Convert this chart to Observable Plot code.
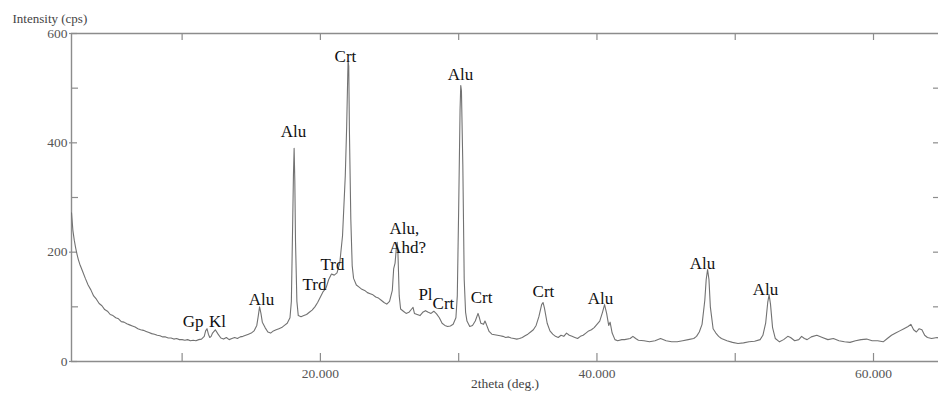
<!DOCTYPE html>
<html>
<head>
<meta charset="utf-8">
<script src="https://cdn.jsdelivr.net/npm/d3@7"></script>
<script src="https://cdn.jsdelivr.net/npm/@observablehq/plot@0.6"></script>
<style>
  html, body { margin: 0; padding: 0; background: #fff; }
  svg { display: block; }
</style>
</head>
<body>
<div id="chart"></div>
<script>
// ---- data ----
const twoTheta = [
  2.0,2.1,2.2,2.3,2.4,2.5,2.6,2.8,3.0,3.2,3.4,3.6,3.8,4.0,4.2,4.4,4.6,4.8,5.0,5.2,5.4,5.6,5.8,6.0,6.2,6.4,6.6,6.8,7.0,7.2,7.4,7.6,7.8,8.0,8.2,8.4,8.6,8.8,9.0,9.2,9.4,9.6,9.8,10.0,10.2,10.4,10.6,10.8,11.0,11.2,11.4,11.6,11.7,11.8,11.9,12.0,12.1,12.2,12.4,12.6,12.8,13.0,13.2,13.4,13.6,13.8,14.0,14.2,14.4,14.6,14.8,15.0,15.2,15.4,15.5,15.6,15.7,15.8,16.0,16.2,16.4,16.6,16.8,17.0,17.2,17.4,17.6,17.8,17.9,18.0,18.05,18.1,18.15,18.2,18.3,18.4,18.6,18.8,19.0,19.2,19.4,19.6,19.8,20.0,20.2,20.4,20.6,20.8,21.0,21.2,21.4,21.6,21.8,21.9,22.0,22.05,22.1,22.2,22.3,22.4,22.6,22.8,23.0,23.2,23.4,23.6,23.8,24.0,24.2,24.4,24.6,24.8,25.0,25.2,25.3,25.4,25.5,25.55,25.6,25.7,25.8,26.0,26.2,26.4,26.6,26.7,26.8,27.0,27.2,27.4,27.6,27.8,28.0,28.2,28.4,28.6,28.8,29.0,29.2,29.4,29.6,29.8,29.9,30.0,30.1,30.15,30.2,30.3,30.4,30.5,30.6,30.8,31.0,31.2,31.4,31.5,31.6,31.8,31.9,32.0,32.2,32.4,32.6,32.8,33.0,33.2,33.4,33.6,33.8,34.0,34.2,34.4,34.6,34.8,35.0,35.2,35.4,35.6,35.8,36.0,36.1,36.2,36.4,36.6,36.8,37.0,37.2,37.4,37.6,37.8,38.0,38.2,38.4,38.6,38.8,39.0,39.2,39.4,39.6,39.8,40.0,40.2,40.4,40.55,40.7,40.85,40.95,41.1,41.3,41.5,41.8,42.0,42.4,42.6,42.8,43.0,43.4,43.8,44.2,44.6,45.0,45.4,45.8,46.2,46.6,47.0,47.2,47.4,47.6,47.8,47.9,48.0,48.1,48.2,48.4,48.6,48.8,49.0,49.4,49.8,50.2,50.6,51.0,51.4,51.8,52.0,52.2,52.35,52.45,52.55,52.7,52.9,53.2,53.5,53.8,54.0,54.3,54.6,54.8,55.0,55.2,55.5,55.9,56.3,56.7,57.1,57.5,57.9,58.3,58.7,59.1,59.5,59.9,60.3,60.7,61.0,61.3,61.6,61.9,62.2,62.5,62.7,62.9,63.1,63.3,63.5,63.7,63.9,64.2,64.6,64.7
];
const intensity = [
  272,240,222,208,196,186,178,165,152,140,131,120,114,106,102,95,92,86,84,80,78,73,72,69,67,65,63,60,58,57,55,53,51,50,48,47,45,45,43,43,41,42,40,40,39,40,38,39,38,40,41,46,56,60,50,44,46,52,58,50,43,41,44,40,42,44,42,45,46,48,50,52,56,66,82,100,88,72,62,54,52,56,58,60,62,66,70,80,110,260,340,390,330,220,110,84,82,84,86,90,94,100,108,118,128,134,150,160,158,162,180,230,340,430,550,540,420,260,175,152,140,136,132,130,126,124,122,118,116,112,108,105,110,130,170,180,210,218,205,120,96,92,88,90,96,99,88,86,84,90,93,90,88,92,87,80,70,66,64,65,68,80,120,280,460,505,495,360,150,90,74,64,66,74,88,80,70,68,74,68,55,50,49,48,47,46,44,45,43,42,41,42,44,47,50,54,58,66,82,104,108,98,70,56,50,46,44,48,46,52,48,46,44,42,46,48,52,56,58,62,68,74,90,104,88,66,72,52,40,38,40,40,42,46,42,39,38,36,38,42,38,36,36,38,40,42,46,54,68,112,150,168,150,100,60,52,46,42,38,35,33,34,36,37,40,48,70,108,122,105,62,42,36,40,46,44,38,40,46,42,40,45,48,44,40,42,38,36,35,38,40,41,38,38,36,42,48,52,56,60,64,68,58,54,60,58,48,44,42,44,43
];
const yMajorTicks = [0, 200, 400, 600];
const yMinorTicks = [100, 300, 500];
const xTicks = [10, 20, 30, 40, 50, 60];
const xLabelTicks = [20, 40, 60];

// peak annotations (phase, 2theta, intensity)
const peakLabels = ["Gp","Kl","Alu","Alu","Trd","Trd","Crt","Alu,","Ahd?","Pl","Crt","Alu","Crt","Crt","Alu","Alu","Alu"];
const peakTheta  = [10.80,12.56,15.74,18.05,19.57,20.87,21.81,26.08,26.30,27.60,28.90,30.13,31.65,36.13,40.25,47.63,52.18];
const peakCps    = [73,73,113,421,141,177,558,243,208,123,106,525,117,128,115,179,132];

const xTitle = "2theta (deg.)";
const yTitle = "Intensity (cps)";

// ---- chart ----
const spectrum = twoTheta.map((t, i) => ({t, v: intensity[i]}));
const labels = peakLabels.map((s, i) => ({s, t: peakTheta[i], v: peakCps[i]}));

const W = 938, H = 398, mL = 71, mR = 0, mT = 33, mB = 37;
const innerW = W - mL - mR, innerH = H - mT - mB;
const axisColor = "#8c8c8c";

const chart = Plot.plot({
  width: W, height: H,
  marginLeft: mL, marginRight: mR, marginTop: mT, marginBottom: mB,
  style: {fontFamily: "'Liberation Serif', 'DejaVu Serif', serif", fontSize: "13.5px", background: "#fff"},
  x: {domain: [2, 64.7]},
  y: {domain: [0, 600]},
  marks: [
    // frame
    Plot.ruleY([0, 600], {stroke: axisColor, strokeWidth: 1.4}),
    Plot.ruleX([2], {stroke: axisColor, strokeWidth: 1.4}),
    // ticks (inward)
    Plot.tickY(yMajorTicks, {y: d => d, stroke: axisColor, strokeWidth: 1.2, insetRight: innerW - 8, dx: -2}),
    Plot.tickY(yMinorTicks, {y: d => d, stroke: axisColor, strokeWidth: 1.2, insetRight: innerW - 7}),
    Plot.tickY(yMinorTicks.concat([200, 400]), {y: d => d, stroke: axisColor, strokeWidth: 1.2, insetLeft: innerW - 5}),
    Plot.tickX(xTicks, {x: d => d, stroke: axisColor, strokeWidth: 1.2, insetBottom: innerH - 7}),
    Plot.tickX(xTicks, {x: d => d, stroke: axisColor, strokeWidth: 1.2, insetTop: innerH - 8}),
    // tick labels
    Plot.axisY({ticks: yMajorTicks, tickSize: 0, tickPadding: 4, label: null, color: "#555", fontSize: 13.5}),
    Plot.axisX({ticks: xLabelTicks, tickSize: 0, tickPadding: 7, label: null, tickFormat: d3.format(".3f"), color: "#555", fontSize: 13.5}),
    // axis titles
    Plot.text([yTitle], {frameAnchor: "top-left", text: d => d, dx: -59, dy: -20, textAnchor: "start", fill: "#444", fontSize: 13}),
    Plot.text([xTitle], {frameAnchor: "bottom", text: d => d, dy: 26, fill: "#444", fontSize: 13.5}),
    // spectrum
    Plot.line(spectrum, {x: "t", y: "v", stroke: "#727272", strokeWidth: 1.1}),
    // annotations
    Plot.text(labels, {x: "t", y: "v", text: "s", fill: "#111", fontSize: 17})
  ]
});

document.getElementById("chart").appendChild(chart);
</script>
</body>
</html>
